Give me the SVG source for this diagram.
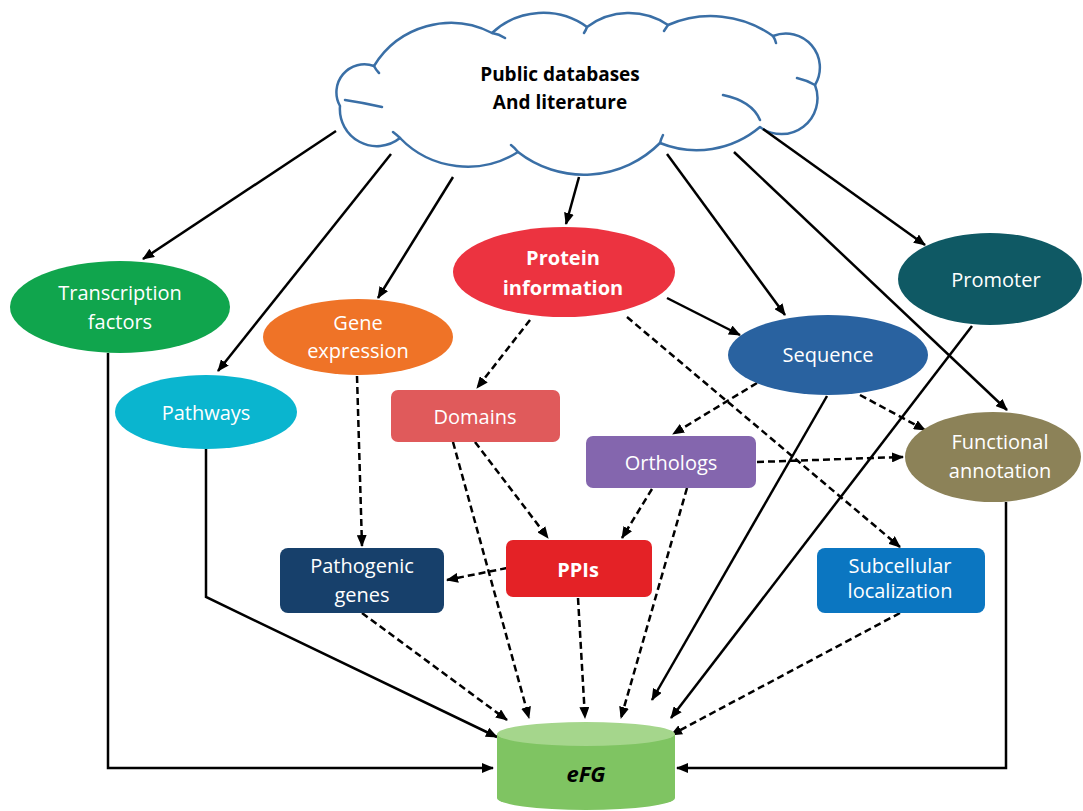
<svg xmlns="http://www.w3.org/2000/svg" width="1083" height="811" viewBox="0 0 1083 811">
<style>
.lbl{font-family:"Open Sans","Noto Sans",sans-serif;font-size:20px;fill:#fff;text-anchor:middle}
.b{font-weight:bold}
.s{fill:none;stroke:#000;stroke-width:2.5}
.d{fill:none;stroke:#000;stroke-width:2.5;stroke-dasharray:7 4}
.cl{fill:#fff;stroke:#3a6fa6;stroke-width:2.5;stroke-linejoin:round}
.tail{fill:none;stroke:#3a6fa6;stroke-width:2.5;stroke-linecap:round}
</style>
<defs>
<marker id="ah" markerUnits="userSpaceOnUse" markerWidth="12" markerHeight="10" refX="11" refY="5" orient="auto">
<path d="M0,0 L12,5 L0,10 z" fill="#000"/>
</marker>
</defs>
<rect width="1083" height="811" fill="#fff"/>

<g id="cloud">
<path class="cl" d="M340,106 A28,28 0 0 1 374,66 A90,90 0 0 1 492,33 A75,75 0 0 1 587,27 A70,70 0 0 1 668,25 A107,107 0 0 1 773,36 A34,34 0 0 1 815,85 A36,36 0 0 1 760,127 A98,98 0 0 1 660,143 A107,107 0 0 1 518,152 A94,94 0 0 1 400,138 A37,37 0 0 1 340,106 Z"/>
<path class="tail" d="M374,66 Q376,70 379,73 M492,33 Q499,34 505,38 M587,27 Q586,30 584,33 M668,25 Q666,28 664,31 M773,36 Q775,39 776,43 M815,85 Q806,80 797,78 M723,95 Q752,101 760,120 M660,143 Q661,139 663,135 M518,152 Q515,148 511,145 M400,138 Q397,135 393,132 M345,100 Q365,103 382,107"/>
<text x="560" y="81" font-family="Open Sans, sans-serif" font-size="19" font-weight="bold" text-anchor="middle" fill="#000">Public databases</text>
<text x="560" y="109" font-family="Open Sans, sans-serif" font-size="19" font-weight="bold" text-anchor="middle" fill="#000">And literature</text>
</g>

<g id="connectors">
<path class="s" marker-end="url(#ah)" d="M336,131 L143,259"/>
<path class="s" marker-end="url(#ah)" d="M391,154 L218,371"/>
<path class="s" marker-end="url(#ah)" d="M453,177 L378,298"/>
<path class="s" marker-end="url(#ah)" d="M579,177 L566,224"/>
<path class="s" marker-end="url(#ah)" d="M667,154 L785,315"/>
<path class="s" marker-end="url(#ah)" d="M734,152 L1007,410"/>
<path class="s" marker-end="url(#ah)" d="M763,129 L925,245"/>
<path class="s" marker-end="url(#ah)" d="M667,298 L740,335"/>
<path class="s" marker-end="url(#ah)" d="M108,353 L108,768 L493,768"/>
<path class="s" marker-end="url(#ah)" d="M206,449 L206,597 L497,737"/>
<path class="s" marker-end="url(#ah)" d="M827,396 L652,700"/>
<path class="s" marker-end="url(#ah)" d="M972,326 L671,718"/>
<path class="s" marker-end="url(#ah)" d="M1006,502 L1006,768 L677,768"/>
<path class="d" marker-end="url(#ah)" d="M530,320 L477,388"/>
<path class="d" marker-end="url(#ah)" d="M627,317 L900,547"/>
<path class="d" marker-end="url(#ah)" d="M757,383 L673,434"/>
<path class="d" marker-end="url(#ah)" d="M860,395 L925,430"/>
<path class="d" marker-end="url(#ah)" d="M757,462 L903,457"/>
<path class="d" marker-end="url(#ah)" d="M652,489 L622,538"/>
<path class="d" marker-end="url(#ah)" d="M687,488 L621,718"/>
<path class="d" marker-end="url(#ah)" d="M475,442 L548,538"/>
<path class="d" marker-end="url(#ah)" d="M453,442 L529,718"/>
<path class="d" marker-end="url(#ah)" d="M357,376 L362,546"/>
<path class="d" marker-end="url(#ah)" d="M507,568 L447,580"/>
<path class="d" marker-end="url(#ah)" d="M362,613 L507,720"/>
<path class="d" marker-end="url(#ah)" d="M578,598 L585,718"/>
<path class="d" marker-end="url(#ah)" d="M900,613 L671,735"/>
</g>

<g id="transcription-factors">
<ellipse cx="120" cy="307" rx="110" ry="46" fill="#10a54d"/>
<text class="lbl" x="120" y="300">Transcription</text>
<text class="lbl" x="120" y="329">factors</text>
</g>
<g id="pathways">
<ellipse cx="206" cy="412" rx="91" ry="37" fill="#0ab5cf"/>
<text class="lbl" x="206" y="420">Pathways</text>
</g>
<g id="gene-expression">
<ellipse cx="358" cy="337" rx="95" ry="38" fill="#ef7327"/>
<text class="lbl" x="358" y="330">Gene</text>
<text class="lbl" x="358" y="358">expression</text>
</g>
<g id="protein-information">
<ellipse cx="564" cy="272" rx="111" ry="45" fill="#ec3340"/>
<text class="lbl b" x="563" y="265">Protein</text>
<text class="lbl b" x="563" y="295">information</text>
</g>
<g id="sequence">
<ellipse cx="828" cy="355" rx="100" ry="40" fill="#2962a0"/>
<text class="lbl" x="828" y="362">Sequence</text>
</g>
<g id="promoter">
<ellipse cx="990" cy="279" rx="92" ry="46" fill="#0f5964"/>
<text class="lbl" x="996" y="287">Promoter</text>
</g>
<g id="functional-annotation">
<ellipse cx="993" cy="457" rx="88" ry="45" fill="#8c8258"/>
<text class="lbl" x="1000" y="449">Functional</text>
<text class="lbl" x="1000" y="478">annotation</text>
</g>
<g id="domains">
<rect x="391" y="390" width="169" height="52" rx="7" fill="#e05a5b"/>
<text class="lbl" x="475" y="424">Domains</text>
</g>
<g id="orthologs">
<rect x="586" y="436" width="170" height="52" rx="7" fill="#8466ae"/>
<text class="lbl" x="671" y="470">Orthologs</text>
</g>
<g id="ppis">
<rect x="506" y="540" width="146" height="57" rx="7" fill="#e42226"/>
<text class="lbl b" x="578" y="577">PPIs</text>
</g>
<g id="pathogenic-genes">
<rect x="280" y="548" width="164" height="65" rx="8" fill="#17406b"/>
<text class="lbl" x="362" y="573">Pathogenic</text>
<text class="lbl" x="362" y="602">genes</text>
</g>
<g id="subcellular-localization">
<rect x="817" y="548" width="168" height="65" rx="8" fill="#0b76c1"/>
<text class="lbl" x="900" y="573">Subcellular</text>
<text class="lbl" x="900" y="598">localization</text>
</g>
<g id="efg">
<path d="M497,734 L497,798 A89,12 0 0 0 675,798 L675,734 Z" fill="#7fc462"/>
<ellipse cx="586" cy="734" rx="89" ry="12" fill="#a5d68c"/>
<text x="586" y="782" font-family="Open Sans, sans-serif" font-size="22" font-weight="bold" font-style="italic" text-anchor="middle" fill="#000">eFG</text>
</g>
</svg>
